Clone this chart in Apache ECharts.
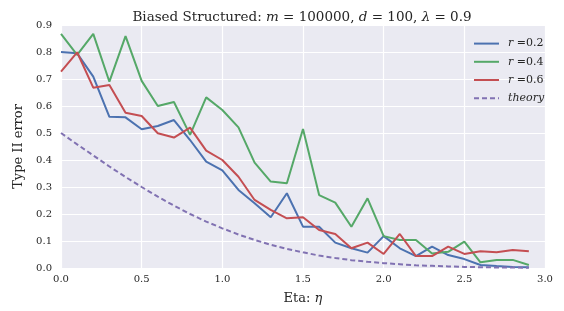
<!DOCTYPE html>
<html>
<head>
<meta charset="utf-8">
<script src="https://cdn.jsdelivr.net/npm/echarts@6/dist/echarts.min.js"></script>
<style>
  html, body { margin: 0; padding: 0; background: #fff; }
  #chart { width: 564px; height: 311px; }
</style>
</head>
<body>
<div id="chart"></div>
<script>
// eta values, one per point
const eta = [0.0, 0.1, 0.2, 0.3, 0.4, 0.5, 0.6, 0.7, 0.8, 0.9,
  1.0, 1.1, 1.2, 1.3, 1.4, 1.5, 1.6, 1.7, 1.8, 1.9,
  2.0, 2.1, 2.2, 2.3, 2.4, 2.5, 2.6, 2.7, 2.8, 2.9];

const r02 = [0.800, 0.795, 0.709, 0.560, 0.558, 0.514, 0.526, 0.548, 0.474, 0.394,
  0.362, 0.289, 0.240, 0.188, 0.277, 0.153, 0.153, 0.094, 0.073, 0.057,
  0.118, 0.073, 0.044, 0.079, 0.048, 0.033, 0.011, 0.007, 0.004, 0.003];

const r04 = [0.867, 0.789, 0.867, 0.690, 0.859, 0.693, 0.600, 0.615, 0.493, 0.632,
  0.585, 0.521, 0.390, 0.320, 0.314, 0.515, 0.270, 0.242, 0.153, 0.258,
  0.118, 0.104, 0.104, 0.054, 0.060, 0.098, 0.021, 0.030, 0.030, 0.011];

const r06 = [0.727, 0.799, 0.668, 0.678, 0.575, 0.563, 0.499, 0.483, 0.520, 0.435,
  0.400, 0.338, 0.252, 0.215, 0.184, 0.188, 0.141, 0.126, 0.073, 0.094,
  0.052, 0.126, 0.044, 0.044, 0.079, 0.052, 0.062, 0.058, 0.067, 0.062];

const theory = [0.500, 0.458, 0.417, 0.376, 0.337, 0.300, 0.264, 0.231, 0.200, 0.172,
  0.147, 0.124, 0.104, 0.086, 0.071, 0.058, 0.046, 0.037, 0.029, 0.023,
  0.018, 0.014, 0.010, 0.008, 0.006, 0.004, 0.003, 0.002, 0.002, 0.001];

const seriesNames = ["r=0.2", "r=0.4", "r=0.6", "theory"];
const xTicks = [0.0, 0.5, 1.0, 1.5, 2.0, 2.5, 3.0];

const serif = "DejaVu Serif";
const ink = "#262626";
const pairs = (ys) => eta.map((x, i) => [x, ys[i]]);

const chart = echarts.init(document.getElementById("chart"));

function lineSeries(name, ys, color, dashed) {
  return {
    name: name,
    type: "line",
    data: pairs(ys),
    symbol: "none",
    lineStyle: { color: color, width: 2, type: dashed ? [5, 3] : "solid" },
    itemStyle: { color: color },
    z: 3,
  };
}

const txt = (italic, size) => ({
  fontFamily: serif, fontSize: size || 13, fontWeight: "normal",
  fontStyle: italic ? "italic" : "normal", color: ink,
});

chart.setOption({
  animation: false,
  backgroundColor: "#fff",
  title: {
    text: "{n|Biased Structured: }{i|m}{n| = 100000, }{i|d}{n| = 100, }{i|λ}{n| = 0.9}",
    left: 297,
    textAlign: "center",
    top: 5,
    textStyle: {
      fontWeight: "normal",
      rich: { n: txt(false, 13.5), i: txt(true, 13.5) },
    },
  },
  legend: {
    orient: "vertical",
    left: 468,
    top: 33,
    itemWidth: 25,
    itemHeight: 14,
    itemGap: 7,
    data: seriesNames,
    itemStyle: { opacity: 0 },
    formatter: (name) => name === "theory" ? "{it|theory}" : "{it|r}{n| =" + name.slice(2) + "}",
    textStyle: {
      fontFamily: serif,
      fontSize: 11,
      color: ink,
      padding: [0, 0, 0, 4],
      rich: {
        n: { fontFamily: serif, fontSize: 11, color: ink },
        it: { fontFamily: serif, fontSize: 11, fontStyle: "italic", color: ink },
      },
    },
  },
  grid: { left: 61, right: 19, top: 25, bottom: 43, backgroundColor: "#EAEAF2", show: true, borderWidth: 0 },
  xAxis: {
    type: "value",
    min: 0,
    max: 3,
    interval: 0.5,
    name: "{n|Eta: }{i|η}",
    nameLocation: "middle",
    nameGap: 24,
    nameTextStyle: { rich: { n: txt(false), i: txt(true) } },
    axisLine: { show: false },
    axisTick: { show: false },
    axisLabel: {
      fontFamily: serif, fontSize: 10, color: ink, margin: 6,
      formatter: (v) => xTicks.includes(v) ? v.toFixed(1) : "",
    },
    splitLine: { show: true, lineStyle: { color: "#fff", width: 1.2 } },
  },
  yAxis: {
    type: "value",
    min: 0,
    max: 0.9,
    interval: 0.1,
    name: "Type II error",
    nameLocation: "middle",
    nameGap: 34,
    nameTextStyle: txt(false),
    axisLine: { show: false },
    axisTick: { show: false },
    axisLabel: {
      fontFamily: serif, fontSize: 10, color: ink, margin: 9,
      formatter: (v) => v.toFixed(1),
    },
    splitLine: { show: true, lineStyle: { color: "#fff", width: 1.2 } },
  },
  series: [
    lineSeries(seriesNames[0], r02, "#4C72B0", false),
    lineSeries(seriesNames[1], r04, "#55A868", false),
    lineSeries(seriesNames[2], r06, "#C44E52", false),
    lineSeries(seriesNames[3], theory, "#8172B2", true),
  ],
});
</script>
</body>
</html>
